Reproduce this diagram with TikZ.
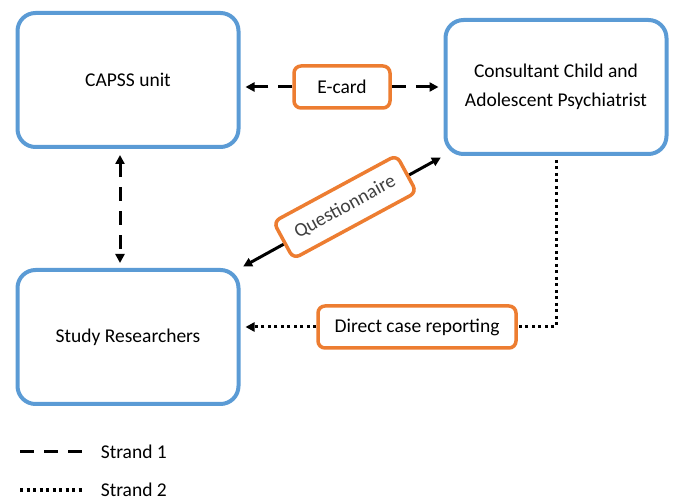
\documentclass[tikz,border=0pt]{standalone}
\usepackage{fontspec}
\setmainfont{Carlito}
\usetikzlibrary{arrows.meta,calc,positioning}
\definecolor{boxblue}{HTML}{5B9BD5}
\definecolor{boxorange}{HTML}{ED7D31}
\tikzset{
	party/.style={draw=boxblue,line width=4pt,rounded corners=18pt,
		minimum width=221pt,minimum height=134pt,align=center,
		font=\fontsize{19.5}{29}\selectfont},
	channel/.style={draw=boxorange,fill=white,line width=3.5pt,rounded corners=7pt,
		minimum height=42pt,inner xsep=10pt,font=\fontsize{19.5}{23}\selectfont},
	tip/.style={-{Triangle[length=9pt,width=9pt]}},
	both tips/.style={{Triangle[length=9pt,width=9pt]}-{Triangle[length=9pt,width=9pt]}},
	strand1/.style={line width=3pt,dash pattern=on 14pt off 10pt},
	strand2/.style={line width=3pt,dash pattern=on 3pt off 3.5pt},
	strand0/.style={line width=3pt},
	legend/.style={anchor=west,font=\fontsize{19.5}{23}\selectfont}
}
\begin{document}
\begin{tikzpicture}[x=1pt,y=-1pt]
	\useasboundingbox (0,0) rectangle (675,502);
	% the three parties
	\node[party] (capss) at (128,80) {CAPSS unit};
	\node[party] (consult) at (556,87) {Consultant Child and\\Adolescent Psychiatrist};
	\node[party] (study) at (128,337) {Study Researchers};
	% strand 1
	\node[channel,minimum width=96pt] (ecard) at (342,87) {E-card};
	\draw[strand1,tip,shorten >=5pt] (ecard.west) -- (capss.east |- ecard.west);
	\draw[strand1,tip,shorten >=5pt] (ecard.east) -- (consult.west |- ecard.east);
	\draw[strand1,both tips,shorten <=6pt,shorten >=5pt]
		([xshift=-8pt]capss.south) -- ([xshift=-8pt]study.north);
	% questionnaire
	\draw[strand0,both tips,shorten <=3pt,shorten >=3pt] (study.north east) -- (consult.south west);
	\node[channel,rotate=28.4,minimum width=140pt,text=black!75] (quest) at (345,207) {Questionnaire};
	% strand 2
	\node[channel,minimum width=198pt] (report) at (417,327) {Direct case reporting};
	\draw[strand2,shorten <=4pt] (consult.south) |- (report.east);
	\draw[strand2,tip,shorten >=5pt] (report.west) -- (study.east |- report.west);
	% legend
	\coordinate (key1) at (20,452);
	\coordinate (key2) at (20,490);
	\draw[strand1] (key1) -- +(62,0) node[legend,right=14pt] (lab1) {Strand 1};
	\draw[strand2] (key2) -- +(62,0) node[legend,right=14pt] (lab2) {Strand 2};
\end{tikzpicture}
\end{document}
